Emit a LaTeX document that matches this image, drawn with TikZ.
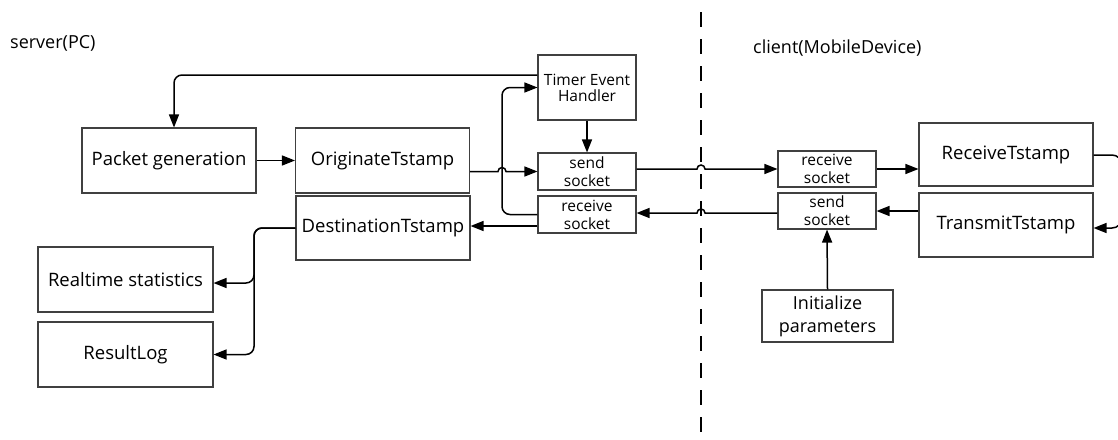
\documentclass[tikz,border=0pt]{standalone}
\usepackage{fontspec}
\setmainfont{Open Sans}
\usetikzlibrary{arrows.meta}
\begin{document}
\begin{tikzpicture}[x=1pt,y=-1pt,
  box/.style={draw=black!75, line width=1.1pt, inner sep=0pt, align=center,
    font=\fontsize{18.5}{22}\selectfont},
  bigbox/.style={box, minimum width=174pt, minimum height=65pt},
  sockbox/.style={box, minimum width=98pt, minimum height=37pt,
    font=\fontsize{15.5}{18}\selectfont},
  title/.style={anchor=west, inner sep=0pt, font=\fontsize{18}{21}\selectfont},
  conn/.style={line width=1.5pt, -{Triangle[length=13pt,width=10pt]}},
  hop/.style={start angle=#1, end angle=180-#1, radius=4pt},
]
\clip (0,0) rectangle (1118,439);

% side labels
\node[title] (srv) at (10,43) {server(PC)};
\node[title] (cli) at (753,48) {client(MobileDevice)};

% server / client border
\draw[line width=2.6pt, dash pattern=on 15pt off 12pt, dash phase=15pt] (701,0) -- (701,439);

% server side
\node[bigbox] (pg)  at (169,160.5) {Packet generation};
\node[bigbox] (ot)  at (382.5,160.5) {OriginateTstamp};
\node[bigbox, minimum height=64pt] (dt) at (383,228) {DestinationTstamp};
\node[box, minimum width=98pt, minimum height=65pt, font=\fontsize{15.5}{16}\selectfont]
  (teh) at (587,87.5) {Timer Event\\Handler};
\node[sockbox] (ss1) at (587,171.5) {send\\socket};
\node[sockbox] (rs1) at (587,214.5) {receive\\socket};
\node[bigbox, minimum width=175pt] (rst) at (125.5,279.5) {Realtime statistics};
\node[bigbox, minimum width=175pt] (rl)  at (125.5,354.5) {ResultLog};

% client side
\node[sockbox, minimum height=36pt] (rs2) at (827,169) {receive\\socket};
\node[sockbox, minimum height=36pt] (ss2) at (827,211) {send\\socket};
\node[bigbox, minimum height=63pt] (rt) at (1006,154.5) {ReceiveTstamp};
\node[bigbox, minimum height=64pt] (tt) at (1006,225) {TransmitTstamp};
\node[box, minimum width=131pt, minimum height=52pt, font=\fontsize{18}{23}\selectfont]
  (ip) at (827.5,316) {Initialize\\parameters};

% server connectors
\draw[conn, rounded corners=8pt] (teh.west |- 0,75) -- (174,75) -- ([xshift=5pt]pg.north);
\draw[conn] (pg) -- (ot);
\draw[conn] (ot.east |- ss1.west) -- (498,171.5) arc[hop=180] -- (ss1.west);
\draw[conn, rounded corners=8pt] (rs1.west) -- (502,214.5) -- (502,87.5) -- (teh.west);
\draw[conn] (teh.south) -- (ss1.north);
\draw[conn] (rs1.west |- 0,226) -- (dt.east |- 0,226);
\draw[conn, rounded corners=8pt] (dt.west) -- (254,228) -- (254,283) -- (rst.east |- 0,283);
\draw[conn, rounded corners=8pt] (dt.west) -- (254,228) -- (254,354.5) -- (rl.east);

% links across the border
\draw[conn] (ss1.east |- rs2.west) -- (697,169) arc[hop=180] -- (rs2.west);
\draw[conn] (ss2.west |- 0,213) -- (705,213) arc[hop=0] -- (rs1.east |- 0,213);

% client connectors
\draw[conn] (rs2.east) -- (rt.west |- rs2.east);
\draw[conn] (tt.west |- ss2.east) -- (ss2.east);
\draw[conn] (ip.north) -- (ss2.south);
\draw[conn, rounded corners=10pt] (rt.east |- 0,155) -- (1122,155) -- (1122,228) -- (tt.east |- 0,228);
\end{tikzpicture}
\end{document}
